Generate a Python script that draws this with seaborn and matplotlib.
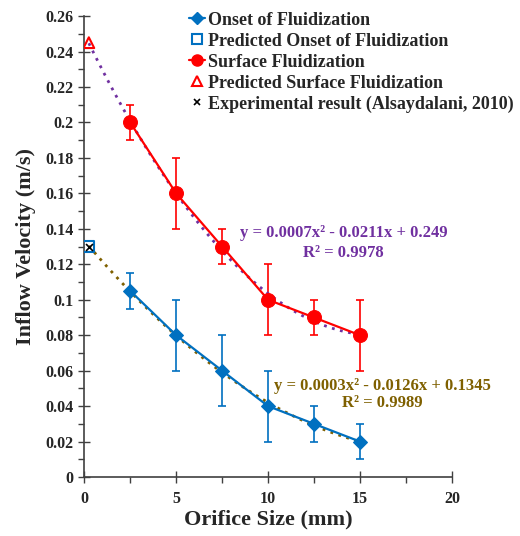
import matplotlib
matplotlib.use("Agg")
import matplotlib.pyplot as plt
import seaborn as sns
import numpy as np
import pandas as pd
from matplotlib.lines import Line2D
from matplotlib.ticker import MultipleLocator, FuncFormatter

# ---- data ----
orifice = [2.5, 5, 7.5, 10, 12.5, 15]
onset = [0.105, 0.08, 0.06, 0.04, 0.03, 0.02]
onset_err = [0.01, 0.02, 0.02, 0.02, 0.01, 0.01]
surface = [0.20, 0.16, 0.13, 0.10, 0.09, 0.08]
surface_err = [0.01, 0.02, 0.01, 0.02, 0.01, 0.02]
pred_x = [0.25]
pred_onset = [0.13]
pred_surface = [0.245]
exp_x = [0.25]
exp_y = [0.13]
eq_surface = ["y = 0.0007x² - 0.0211x + 0.249", "R² = 0.9978"]
eq_onset = ["y = 0.0003x² - 0.0126x + 0.1345", "R² = 0.9989"]

BLUE = "#0070C0"
RED = "#FF0000"
PURPLE = "#7030A0"
OLIVE = "#7F6000"

sns.set_style("ticks")
plt.rcParams["font.family"] = ["Liberation Serif", "DejaVu Serif"]
plt.rcParams["font.weight"] = "bold"

fig = plt.figure(figsize=(5.2, 5.36), dpi=100)
ax = fig.add_axes([0.162, 0.110, 0.707, 0.860])

# trendlines (quadratic fit incl. predicted point)
df_s = pd.DataFrame({"x": pred_x + orifice, "y": pred_surface + surface})
df_o = pd.DataFrame({"x": pred_x + orifice, "y": pred_onset + onset})
sns.regplot(data=df_s, x="x", y="y", order=2, ci=None, scatter=False, ax=ax,
            line_kws=dict(color=PURPLE, ls=(0, (1, 2)), lw=2.0, zorder=3))
sns.regplot(data=df_o, x="x", y="y", order=2, ci=None, scatter=False, ax=ax,
            line_kws=dict(color=OLIVE, ls=(0, (1, 2)), lw=2.0, zorder=3))

# error bars
ax.errorbar(orifice, onset, yerr=onset_err, fmt="none", ecolor=BLUE, elinewidth=1.2, capsize=3, capthick=1.2, zorder=2)
ax.errorbar(orifice, surface, yerr=surface_err, fmt="none", ecolor=RED, elinewidth=1.2, capsize=3, capthick=1.2, zorder=2)

# series
sns.lineplot(x=orifice, y=onset, ax=ax, color=BLUE, lw=1.6, marker="D", markersize=7,
             markeredgecolor=BLUE, zorder=4)
sns.lineplot(x=orifice, y=surface, ax=ax, color=RED, lw=1.6, marker="o", markersize=10,
             markeredgecolor=RED, zorder=4)
sns.scatterplot(x=pred_x, y=pred_onset, ax=ax, marker="s", s=60, facecolor="none",
                edgecolor=BLUE, linewidth=1.5, zorder=5)
sns.scatterplot(x=pred_x, y=pred_surface, ax=ax, marker="^", s=60, facecolor="none",
                edgecolor=RED, linewidth=1.5, zorder=5)
sns.scatterplot(x=exp_x, y=exp_y, ax=ax, marker="x", s=25, color="black", linewidth=1.2, zorder=6)

# equations
ax.text(14.1, 0.1376, eq_surface[0], color=PURPLE, fontsize=12, fontweight="bold", ha="center", va="center")
ax.text(14.1, 0.1262, eq_surface[1], color=PURPLE, fontsize=12, fontweight="bold", ha="center", va="center")
ax.text(16.2, 0.0513, eq_onset[0], color=OLIVE, fontsize=12, fontweight="bold", ha="center", va="center")
ax.text(16.2, 0.0417, eq_onset[1], color=OLIVE, fontsize=12, fontweight="bold", ha="center", va="center")

# axes
ax.set_xlim(0, 20)
ax.set_ylim(0, 0.26)
ax.xaxis.set_major_locator(MultipleLocator(5))
ax.xaxis.set_minor_locator(MultipleLocator(2.5))
ax.yaxis.set_major_locator(MultipleLocator(0.02))
ax.yaxis.set_minor_locator(MultipleLocator(0.01))
ax.yaxis.set_major_formatter(FuncFormatter(lambda v, p: f"{round(v, 2):g}"))
ax.xaxis.set_major_formatter(FuncFormatter(lambda v, p: f"{v:g}"))
for s in ["top", "right"]:
    ax.spines[s].set_visible(False)
for s in ["left", "bottom"]:
    ax.spines[s].set_color("#404040")
    ax.spines[s].set_linewidth(1.2)
ax.tick_params(which="major", direction="inout", length=8, width=1.0, color="#404040", labelsize=11.5)
ax.tick_params(axis="x", which="major", pad=6)
ax.tick_params(which="minor", direction="out", length=4, width=1.0, color="#404040")
for lab in ax.get_xticklabels() + ax.get_yticklabels():
    lab.set_fontweight("bold")
ax.set_xlabel("Orifice Size (mm)", fontsize=16, fontweight="bold", labelpad=2)
ax.set_ylabel("Inflow Velocity (m/s)", fontsize=16, fontweight="bold", labelpad=7)

handles = [
    Line2D([], [], color=BLUE, lw=1.6, marker="D", markersize=6),
    Line2D([], [], ls="none", marker="s", markersize=7, markerfacecolor="none", markeredgecolor=BLUE, mew=1.5),
    Line2D([], [], color=RED, lw=1.6, marker="o", markersize=8),
    Line2D([], [], ls="none", marker="^", markersize=7, markerfacecolor="none", markeredgecolor=RED, mew=1.5),
    Line2D([], [], ls="none", marker="x", markersize=5, color="black", mew=1.2),
]
labels = ["Onset of Fluidization", "Predicted Onset of Fluidization", "Surface Fluidization",
          "Predicted Surface Fluidization", "Experimental result (Alsaydalani, 2010)"]
leg = ax.legend(handles, labels, loc="upper left", bbox_to_anchor=(0.24, 1.045), frameon=False,
                handlelength=0.9, handletextpad=0.15, labelspacing=0.22,
                prop=dict(weight="bold", size=13))

fig.savefig("out.png", dpi=100)
